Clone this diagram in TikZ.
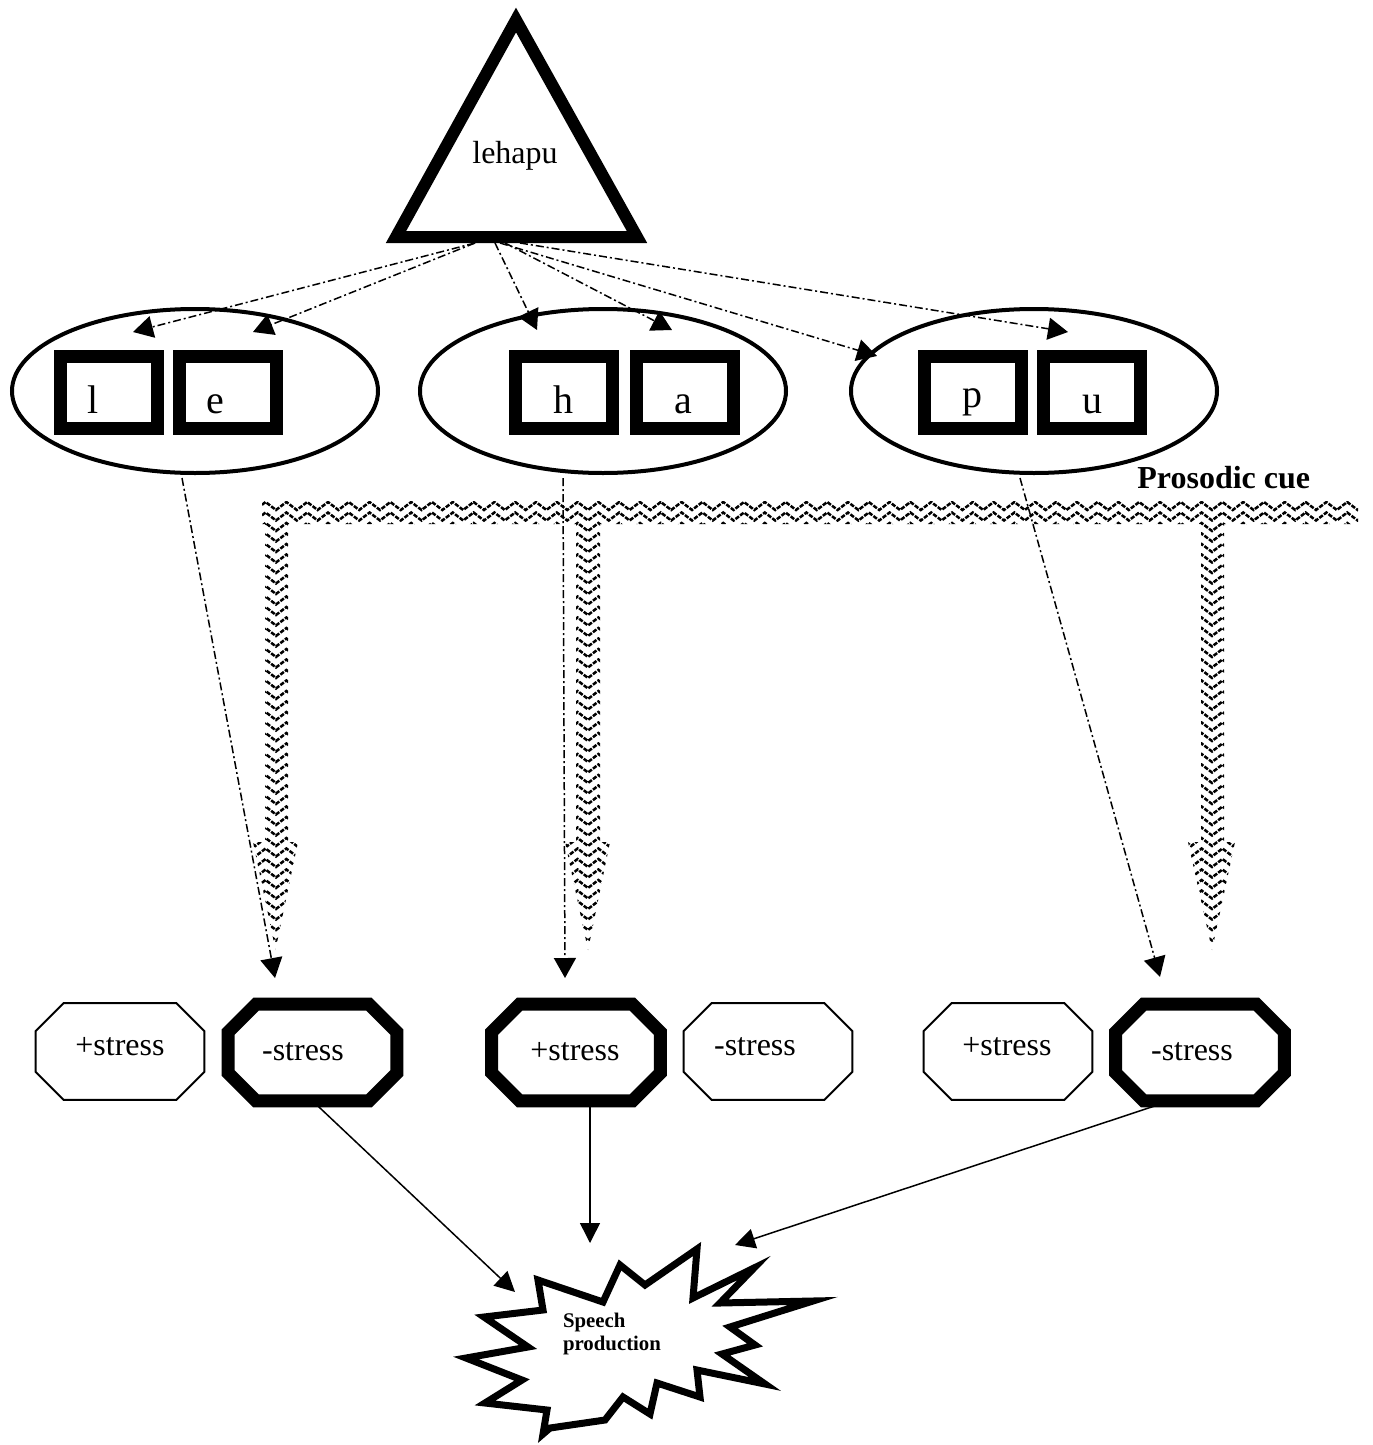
\documentclass[tikz,border=0pt]{standalone}
\usepackage{fontspec}
\setmainfont{Liberation Serif}
\usetikzlibrary{shapes.geometric,arrows.meta,calc}

% octagon drawn on the border of a rectangular node, corners cut by 28 units
\newcommand\octpath[2]{%
  \draw[#1] ($(#2.north west)+(28,0)$) -- ($(#2.north east)+(-28,0)$)
    -- ($(#2.north east)+(0,28)$) -- ($(#2.south east)+(0,-28)$)
    -- ($(#2.south east)+(-28,0)$) -- ($(#2.south west)+(28,0)$)
    -- ($(#2.south west)+(0,-28)$) -- ($(#2.north west)+(0,28)$) -- cycle;}

\begin{document}
\begin{tikzpicture}[x=0.5pt,y=-0.5pt,
  dashdot/.style={line width=0.75pt, dash pattern=on 4pt off 1.5pt on 1pt off 1.5pt,
    -{Triangle[length=10pt,width=11pt]}},
  solidarrow/.style={line width=0.75pt, -{Triangle[length=10pt,width=10pt]}},
  syll/.style={draw, ellipse, line width=2pt, minimum width=183pt, minimum height=82pt, inner sep=0pt},
  seg/.style={draw, rectangle, line width=6.5pt, minimum width=48.5pt, minimum height=36pt, inner sep=0pt},
  letter/.style={anchor=base, inner sep=0pt, font=\fontsize{20}{24}\selectfont},
  word/.style={anchor=base, inner sep=0pt, font=\fontsize{16}{19}\selectfont},
  octbox/.style={rectangle, minimum width=84pt, minimum height=48pt, inner sep=0pt},
  thinoct/.style={line width=1pt, miter limit=10},
  thickoct/.style={line width=6.5pt, miter limit=10},
  zig/.style={line width=1.25pt, dash pattern=on 2.2pt off 0.7pt},
]
\useasboundingbox (0,0) rectangle (1372,1445);

% the word
\draw[line width=6pt, miter limit=10] (516,20) -- (396,237) -- (637,237) -- cycle;
\node[word] (lehapu) at (515,163) {lehapu};

% syllables
\node[syll] (s1) at (195,391) {};
\node[syll] (s2) at (603,391) {};
\node[syll] (s3) at (1034,391) {};

% segments
\node[seg] (bl) at (108.5,392.5) {};
\node[seg] (be) at (228,392.5) {};
\node[seg] (bh) at (564,392.5) {};
\node[seg] (ba) at (684.5,392.5) {};
\node[seg] (bp) at (972.5,392.5) {};
\node[seg] (bu) at (1092,392.5) {};
\node[letter] (ll) at (93,413) {l};
\node[letter] (le) at (215,413) {e};
\node[letter] (lh) at (563,413) {h};
\node[letter] (la) at (683,413) {a};
\node[letter] (lp) at (972,407) {p};
\node[letter] (lu) at (1092,413) {u};

% word to segments
\coordinate (w1) at (475,243);
\coordinate (w2) at (495,243);
\coordinate (w3) at (505,243);
\coordinate (w4) at (500,243);
\coordinate (w5) at (520,243);
\coordinate (tl) at (133,332);
\coordinate (te) at (253,332);
\coordinate (th) at (537,330);
\coordinate (ta) at (672,330);
\coordinate (tp) at (877,356);
\coordinate (tu) at (1068,332);
\draw[dashdot] (w1) -- (tl);
\draw[dashdot] (w1) -- (te);
\draw[dashdot] (w2) -- (th);
\draw[dashdot] (w3) -- (ta);
\draw[dashdot] (w4) -- (tp);
\draw[dashdot] (w5) -- (tu);

% prosodic cue band with its three arrows
\node[anchor=base west, inner sep=0pt, font=\fontsize{16}{19}\selectfont\bfseries] (cue) at (1137,488) {Prosodic cue};
\begin{scope}
  \clip (262,501) rectangle (1358,524)
        (265,524) rectangle (288,842)
        (253,842) -- (298,842) -- (275.5,950) -- cycle
        (576,524) rectangle (600,842)
        (565,842) -- (610,842) -- (588,950) -- cycle
        (1201,524) rectangle (1224,842)
        (1188,842) -- (1235,842) -- (1212,950) -- cycle;
  \foreach \j in {0,...,44} {
    \draw[zig] plot[domain=0:110, samples=111]
      ({234.4+10.4*\x}, {506+10.5*\j+4*cos(180*mod(\x,2))});
  }
\end{scope}

% stress options
\node[octbox] (o1) at (120,1051.5) {};
\node[octbox] (o2) at (312.5,1052.5) {};
\node[octbox] (o3) at (576,1052.5) {};
\node[octbox] (o4) at (768,1051.5) {};
\node[octbox] (o5) at (1008,1051.5) {};
\node[octbox] (o6) at (1200,1052.5) {};
\octpath{thinoct}{o1}
\octpath{thickoct}{o2}
\octpath{thickoct}{o3}
\octpath{thinoct}{o4}
\octpath{thinoct}{o5}
\octpath{thickoct}{o6}
\node[word] (t1) at (120,1055) {+stress};
\node[word] (t2) at (303,1060) {-stress};
\node[word] (t3) at (575,1060) {+stress};
\node[word] (t4) at (755,1055) {-stress};
\node[word] (t5) at (1007,1055) {+stress};
\node[word] (t6) at (1192,1060) {-stress};

% syllables to chosen stress
\coordinate (d1) at (275,978);
\coordinate (d2) at (565,978);
\coordinate (d3) at (1160,977);
\draw[dashdot] ($(s1.south)+(-13,3)$) -- (d1);
\draw[dashdot] ($(s2.south)+(-40,3)$) -- (d2);
\draw[dashdot] ($(s3.south)+(-14,3)$) -- (d3);

% speech production
\draw[line width=3.5pt, miter limit=10, fill=white]
  (538,1280) -- (603,1302) -- (620,1265) -- (645,1285) -- (697,1249)
  -- (693,1298) -- (754,1268) -- (720,1303) -- (813,1301) -- (730,1327)
  -- (755,1345) -- (722,1354) -- (765,1384) -- (697,1370) -- (700,1397)
  -- (657,1383) -- (650,1414) -- (623,1397) -- (605,1420) -- (550,1428)
  -- (543,1434) -- (547,1410) -- (485,1403) -- (522,1380) -- (466,1358)
  -- (528,1347) -- (484,1317) -- (543,1310) -- cycle;
\node[align=left, inner sep=0pt, font=\fontsize{10.4}{11.5}\selectfont\bfseries] (speech) at (612,1334) {Speech\\production};

\coordinate (p1) at (515,1292);
\coordinate (p2) at (590,1243);
\coordinate (p3) at (735,1245);
\draw[solidarrow] (o2.south) -- (p1);
\draw[solidarrow] ($(o3.south)+(14,0)$) -- (p2);
\draw[solidarrow] ($(o6.south)+(-30,0)$) -- (p3);
\end{tikzpicture}
\end{document}
